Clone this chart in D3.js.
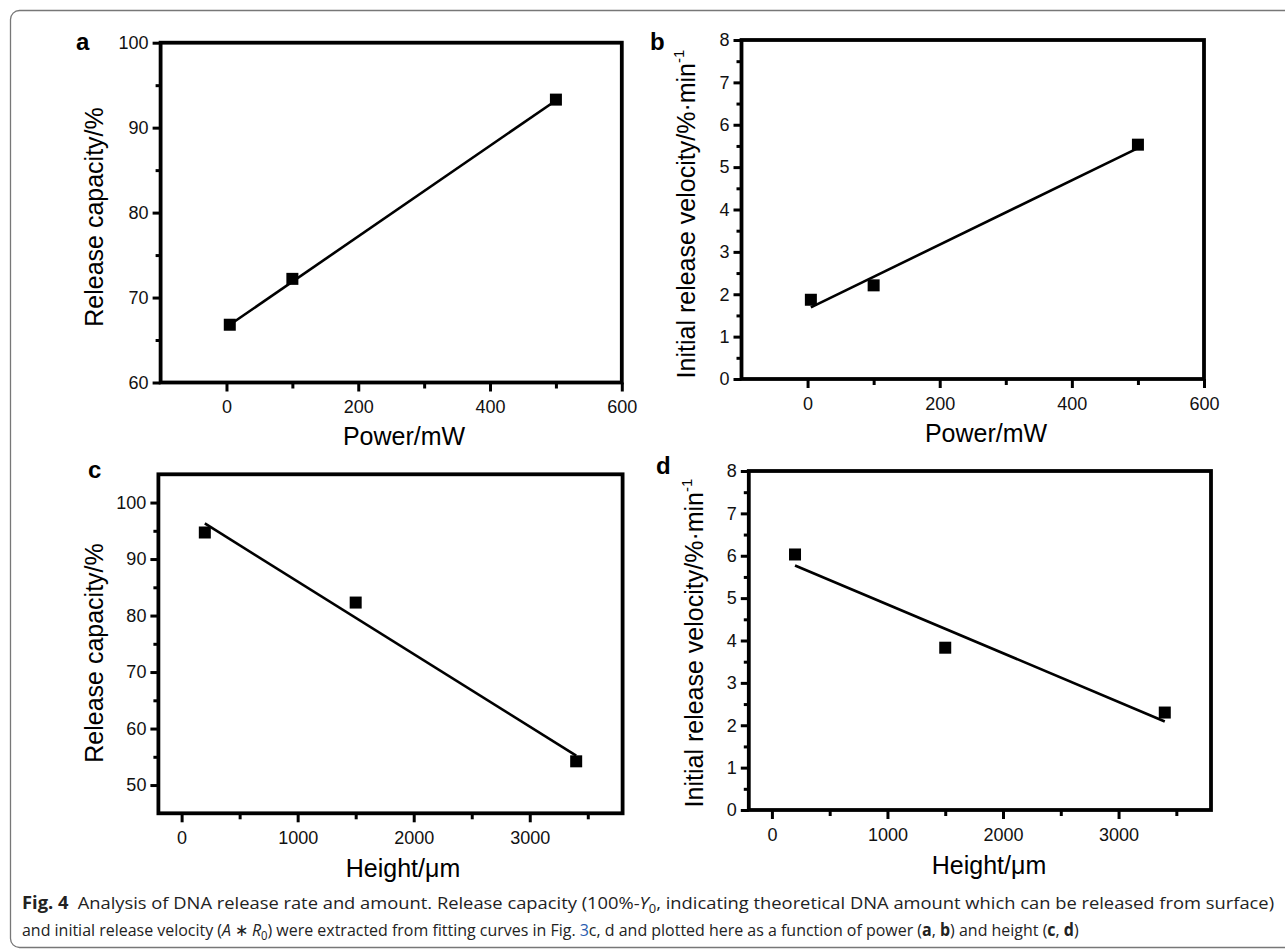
<!DOCTYPE html>
<meta charset="utf-8">
<style>
body{ margin:0; background:#fff; }
svg text{ font-family: "Liberation Sans", Arial, sans-serif; fill:#000; }
.tick text{ font-size:18px; }
.caption text{ font-family: "Open Sans", "Noto Sans", sans-serif; fill:#222; }
</style>
<body>
<script src="https://d3js.org/d3.v7.min.js"></script>
<script>
// data
const powerX = [5, 100, 500];
const capacityA = [66.8, 72.2, 93.3];
const velocityB = [1.87, 2.21, 5.53];
const heightX = [200, 1500, 3400];
const capacityC = [94.7, 82.3, 54.2];
const velocityD = [6.03, 3.83, 2.30];

// fitted lines (end points)
const fitPowerX = [5, 500];
const fitA = [66.8, 93.2];
const fitB = [1.69, 5.45];
const fitHeightX = [200, 3400];
const fitC = [96.3, 55.2];
const fitD = [5.77, 2.09];

// ticks
const powerTicks = [0, 200, 400, 600];
const powerMinor = [100, 300, 500];
const heightTicks = [0, 1000, 2000, 3000];
const heightMinor = [500, 1500, 2500, 3500];
const capTicksA = [60, 70, 80, 90, 100];
const capMinorA = [65, 75, 85, 95];
const capTicksC = [50, 60, 70, 80, 90, 100];
const capMinorC = [55, 65, 75, 85, 95];
const velTicks = [0, 1, 2, 3, 4, 5, 6, 7, 8];
const velMinor = [0.5, 1.5, 2.5, 3.5, 4.5, 5.5, 6.5, 7.5];

const W = 1285, H = 949;
const svg = d3.select("body").append("svg").attr("width", W).attr("height", H);

// figure border
svg.append("rect")
    .attr("x", 10.5).attr("y", 10.5)
    .attr("width", 1300).attr("height", 937)
    .attr("rx", 9)
    .style("fill", "none").style("stroke", "#777").style("stroke-width", 1.3);

const panels = [
  {letter:"a", lx:76, ly:50, box:{l:160.6, r:621.8, t:42.7, b:382.5},
   xDom:[-100, 600], yDom:[60, 100], xs:powerX, ys:capacityA, fx:fitPowerX, fy:fitA,
   xMaj:powerTicks, xMin:powerMinor, yMaj:capTicksA, yMin:capMinorA,
   xTitle:"Power/mW", xtx:404, xty:445, yTitle:"Release capacity/%", ytx:103, yty:217, sup:false},
  {letter:"b", lx:650, ly:50, box:{l:741.5, r:1204, t:40, b:379},
   xDom:[-100, 600], yDom:[0, 8], xs:powerX, ys:velocityB, fx:fitPowerX, fy:fitB,
   xMaj:powerTicks, xMin:powerMinor, yMaj:velTicks, yMin:velMinor,
   xTitle:"Power/mW", xtx:986, xty:442, yTitle:"Initial release velocity/%\u00b7min", ytx:695, yty:214, sup:true},
  {letter:"c", lx:88, ly:478, box:{l:158.4, r:622.6, t:474.3, b:813.3},
   xDom:[-200, 3800], yDom:[45, 105], xs:heightX, ys:capacityC, fx:fitHeightX, fy:fitC,
   xMaj:heightTicks, xMin:heightMinor, yMaj:capTicksC, yMin:capMinorC,
   xTitle:"Height/\u03bcm", xtx:403, xty:877, yTitle:"Release capacity/%", ytx:103, yty:653, sup:false},
  {letter:"d", lx:656, ly:474, box:{l:748.8, r:1211, t:471, b:810},
   xDom:[-200, 3800], yDom:[0, 8], xs:heightX, ys:velocityD, fx:fitHeightX, fy:fitD,
   xMaj:heightTicks, xMin:heightMinor, yMaj:velTicks, yMin:velMinor,
   xTitle:"Height/\u03bcm", xtx:989, xty:874, yTitle:"Initial release velocity/%\u00b7min", ytx:703, yty:643, sup:true}
];

panels.forEach(p => {
    const b = p.box;
    const x = d3.scaleLinear().domain(p.xDom).range([b.l, b.r]);
    const y = d3.scaleLinear().domain(p.yDom).range([b.b, b.t]);
    const g = svg.append("g");

    // minor ticks
    g.append("g").attr("transform", `translate(0,${b.b})`)
        .call(d3.axisBottom(x).tickValues(p.xMin).tickSize(6).tickSizeOuter(0).tickFormat(""))
        .call(a => a.select(".domain").remove());
    g.append("g").attr("transform", `translate(${b.l},0)`)
        .call(d3.axisLeft(y).tickValues(p.yMin).tickSize(5).tickSizeOuter(0).tickFormat(""))
        .call(a => a.select(".domain").remove());

    // major ticks
    g.append("g").attr("transform", `translate(0,${b.b})`)
        .call(d3.axisBottom(x).tickValues(p.xMaj).tickSize(9).tickSizeOuter(0).tickPadding(9).tickFormat(d3.format("d")))
        .call(a => a.select(".domain").remove());
    g.append("g").attr("transform", `translate(${b.l},0)`)
        .call(d3.axisLeft(y).tickValues(p.yMaj).tickSize(8).tickSizeOuter(0).tickPadding(4).tickFormat(d3.format("d")))
        .call(a => a.select(".domain").remove());
    g.selectAll(".tick line").style("stroke", "#000").style("stroke-width", "3px");
    g.selectAll(".tick text").style("font-family", "Liberation Sans, Arial, sans-serif").style("fill", "#111");

    // frame
    g.append("rect")
        .attr("x", b.l).attr("y", b.t)
        .attr("width", b.r - b.l).attr("height", b.b - b.t)
        .style("fill", "none").style("stroke", "#000").style("stroke-width", 3.8);

    // fit line
    const fit = p.fx.map((v, i) => [v, p.fy[i]]);
    g.append("path")
        .datum(fit)
        .attr("d", d3.line().x(d => x(d[0])).y(d => y(d[1])))
        .style("fill", "none").style("stroke", "#000").style("stroke-width", 2.6);

    // points
    const pts = p.xs.map((v, i) => [v, p.ys[i]]);
    g.selectAll("rect.pt")
        .data(pts)
        .join("rect")
        .attr("class", "pt")
        .attr("x", d => x(d[0]) - 6)
        .attr("y", d => y(d[1]) - 6)
        .attr("width", 12).attr("height", 12)
        .style("fill", "#000");

    // titles
    g.append("text")
        .attr("x", p.xtx).attr("y", p.xty)
        .attr("text-anchor", "middle")
        .style("font-size", "25px")
        .text(p.xTitle);

    const yt = g.append("text")
        .attr("transform", `translate(${p.ytx},${p.yty}) rotate(-90)`)
        .attr("text-anchor", "middle")
        .style("font-size", "25px");
    yt.append("tspan").text(p.yTitle);
    if (p.sup) {
        yt.append("tspan").attr("dy", -11).style("font-size", "15px").text("-1");
    }

    // panel letter
    g.append("text")
        .attr("x", p.lx).attr("y", p.ly)
        .style("font-size", "24px").style("font-weight", "bold")
        .text(p.letter);
});

// caption: natural text, then squeezed horizontally to the reference width
function captionLine(yPos, width, build) {
    const wrap = svg.append("g").attr("class", "caption").style("font-size", "17px");
    const t = wrap.append("text").attr("x", 0).attr("y", 0);
    build(t);
    const natural = t.node().getComputedTextLength();
    wrap.attr("transform", `translate(22,${yPos}) scale(${width / natural},1)`);
}

captionLine(909, 1253, t => {
    t.append("tspan").style("font-weight", "bold").text("Fig. 4");
    t.append("tspan").text("\u2002Analysis of DNA release rate and amount. Release capacity (100%-");
    t.append("tspan").style("font-style", "italic").text("Y");
    t.append("tspan").attr("dy", 4).style("font-size", "12px").text("0");
    t.append("tspan").attr("dy", -4).text(", indicating theoretical DNA amount which can be released from surface)");
});

captionLine(936, 1058, t => {
    t.append("tspan").text("and initial release velocity (");
    t.append("tspan").style("font-style", "italic").text("A");
    t.append("tspan").text(" \u2217 ");
    t.append("tspan").style("font-style", "italic").text("R");
    t.append("tspan").attr("dy", 4).style("font-size", "12px").text("0");
    t.append("tspan").attr("dy", -4).text(") were extracted from fitting curves in Fig. ");
    t.append("tspan").style("fill", "#2a5db0").text("3");
    t.append("tspan").text("c, d and plotted here as a function of power (");
    t.append("tspan").style("font-weight", "bold").text("a");
    t.append("tspan").text(", ");
    t.append("tspan").style("font-weight", "bold").text("b");
    t.append("tspan").text(") and height (");
    t.append("tspan").style("font-weight", "bold").text("c");
    t.append("tspan").text(", ");
    t.append("tspan").style("font-weight", "bold").text("d");
    t.append("tspan").text(")");
});
</script>
</body>
</html>
